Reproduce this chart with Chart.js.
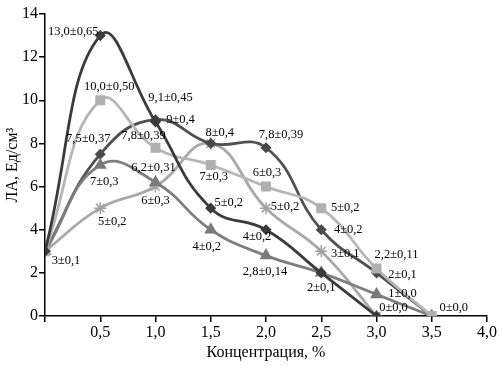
<!DOCTYPE html>
<html>
<head>
<meta charset="utf-8">
<script src="https://cdn.jsdelivr.net/npm/chart.js@4/dist/chart.umd.min.js"></script>
<style>
  html, body { margin: 0; padding: 0; background: #fff; }
  #wrap { width: 502px; height: 366px; }
</style>
</head>
<body>
<div id="wrap"><canvas id="la_chart" width="502" height="366"></canvas></div>
<script>
// concentration, %
let conc = [0, 0.5, 1.0, 1.5, 2.0, 2.5, 3.0, 3.5];

// LA, U/cm3 for each series
let s1_vals = [3, 13.0, 9, 5, 4, 2, 0, null];
let s2_vals = [3, 10.0, 7.8, 7, 6, 5, 2.2, 0];
let s3_vals = [3, 7, 6.2, 4, 2.8, 2, 1, 0];
let s4_vals = [3, 7.5, 9.1, 8, 7.8, 4, 2, 0];
let s5_vals = [3, 5, 6, 8, 5, 3, 0, null];

// point labels (value ± error)
let s1_text = [null, '13,0±0,65', '9±0,4', '5±0,2', '4±0,2', null, '0±0,0', null];
let s2_text = [null, '10,0±0,50', '7,8±0,39', '7±0,3', '6±0,3', '5±0,2', '2,2±0,11', '0±0,0'];
let s3_text = [null, '7±0,3', '6,2±0,31', '4±0,2', '2,8±0,14', '2±0,1', '1±0,0', null];
let s4_text = [null, '7,5±0,37', '9,1±0,45', '8±0,4', '7,8±0,39', '4±0,2', '2±0,1', null];
let s5_text = ['3±0,1', '5±0,2', '6±0,3', null, '5±0,2', '3±0,1', null, null];

// where each label sits relative to its point (px)
let s1_off = [null, [-27, -4], [25, -2], [18, -5], [-9, 7], null, [17, -8], null];
let s2_off = [null, [9, -14], [-12, -12], [3, 12], [1, -14], [24, 0], [20, -14], [22, -8]];
let s3_off = [null, [4, 17], [-2, -15], [-4, 17], [-1, 16], [0, 15], [26, -1], null];
let s4_off = [null, [-12, -15], [15, -22], [9, -11], [15, -13], [27, 0], [26, 2], null];
let s5_off = [[21, 9], [12, 14], [0, 14], null, [19, -1], [24, 2], null, null];

const all_text = [s1_text, s2_text, s3_text, s4_text, s5_text];
const all_off = [s1_off, s2_off, s3_off, s4_off, s5_off];

function pts(vals) {
    return conc.map((c, i) => ({ x: c, y: vals[i] })).filter(p => p.y !== null);
}

const pointLabels = {
    id: 'pointLabels',
    afterDatasetsDraw(chart) {
        const ctx = chart.ctx;
        ctx.save();
        ctx.font = '12.5px "Liberation Serif", serif';
        ctx.fillStyle = '#000';
        ctx.textAlign = 'center';
        ctx.textBaseline = 'middle';
        chart.data.datasets.forEach((ds, i) => {
            const meta = chart.getDatasetMeta(i);
            all_text[i].forEach((txt, j) => {
                if (!txt) return;
                const p = meta.data[j];
                const off = all_off[i][j];
                ctx.fillText(txt, p.x + off[0], p.y + off[1]);
            });
        });
        ctx.restore();
    }
};

const serif = { family: '"Liberation Serif", serif', size: 16 };

function makeSet(vals, color, ptColor, style, radius) {
    return {
        data: pts(vals),
        borderColor: color,
        borderWidth: 2.8,
        tension: 0.45,
        pointStyle: style,
        pointRadius: radius,
        pointBackgroundColor: ptColor,
        pointBorderColor: ptColor,
        pointBorderWidth: 1.5
    };
}

var ctx = document.getElementById('la_chart').getContext('2d');
var la_chart = new Chart(ctx, {
    type: 'line',
    data: {
        datasets: [
            makeSet(s1_vals, '#3b3b3b', '#3b3b3b', 'rectRot', 4.5),
            makeSet(s2_vals, '#b6b6b6', '#b0b0b0', 'rect', 6),
            makeSet(s3_vals, '#7e7e7e', '#7a7a7a', 'triangle', 6),
            makeSet(s4_vals, '#505050', '#4a4a4a', 'rectRot', 4.5),
            makeSet(s5_vals, '#a9a9a9', '#a0a0a0', 'star', 6)
        ]
    },
    options: {
        responsive: false,
        animation: false,
        layout: { padding: { top: 14, right: 15, left: 0, bottom: 0 } },
        plugins: {
            legend: { display: false },
            tooltip: { enabled: false }
        },
        scales: {
            x: {
                type: 'linear',
                min: 0,
                max: 4,
                afterFit: s => { s.height = 50; },
                ticks: {
                    stepSize: 0.5,
                    color: '#000',
                    font: serif,
                    padding: 1,
                    maxRotation: 0,
                    callback: v => v === 0 ? '' : v.toFixed(1).replace('.', ',')
                },
                grid: { drawOnChartArea: false, color: '#000', lineWidth: 1.5, tickLength: 6 },
                border: { color: '#000', width: 1.5 },
                title: {
                    display: true,
                    text: 'Концентрация, %',
                    color: '#000',
                    font: serif,
                    padding: { bottom: 4 }
                }
            },
            y: {
                min: 0,
                max: 14,
                afterFit: s => { s.width = 45; },
                ticks: { stepSize: 2, color: '#000', font: serif, padding: 1 },
                grid: { drawOnChartArea: false, color: '#000', lineWidth: 1.5, tickLength: 6 },
                border: { color: '#000', width: 1.5 },
                title: {
                    display: true,
                    text: 'ЛА, Ед/см³',
                    color: '#000',
                    font: serif,
                    padding: { top: 3 }
                }
            }
        }
    },
    plugins: [pointLabels]
});
</script>
</body>
</html>
